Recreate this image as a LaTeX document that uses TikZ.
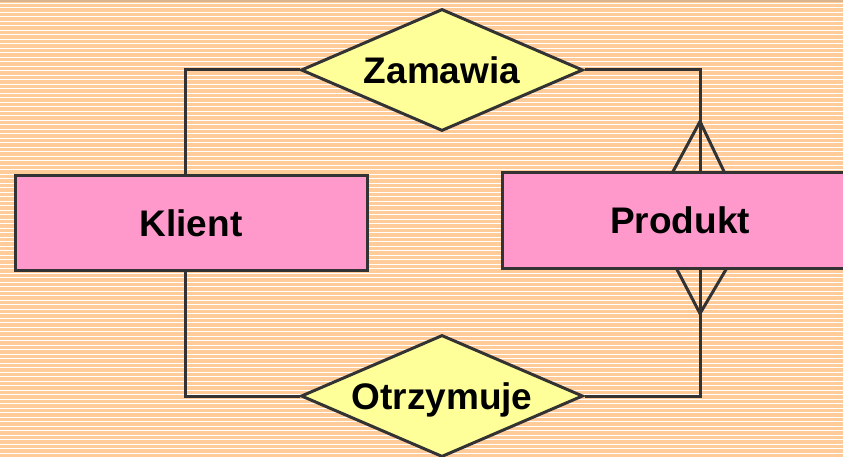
\documentclass[tikz,border=0pt]{standalone}
\usepackage{fontspec}
\setmainfont{Liberation Sans}
\usetikzlibrary{shapes.geometric}

\definecolor{tlo}{HTML}{FFCC99}
\definecolor{pasek}{HTML}{D9B48F}
\definecolor{encja}{HTML}{FF99CC}
\definecolor{relacja}{HTML}{FFFF99}
\definecolor{linia}{HTML}{333333}

\tikzset{
	encja/.style={draw=linia, line width=3pt, fill=encja, rectangle, inner sep=0pt,
		font=\fontsize{37}{40}\selectfont\bfseries, text depth=0pt},
	relacja/.style={draw=linia, line width=3pt, fill=relacja, diamond, aspect=2.3, inner sep=0pt,
		minimum width=282pt, minimum height=122pt,
		font=\fontsize{37}{40}\selectfont\bfseries, text depth=0pt},
	polaczenie/.style={draw=linia, line width=3pt, line join=miter}
}

\begin{document}
\begin{tikzpicture}[x=1pt, y=-1pt]
		\clip (0,0) rectangle (843,457);
		\fill[tlo] (0,0) rectangle (843,457);
		\foreach \y in {3.3,7.8,...,457} {
			\draw[white, line width=1pt] (0,\y) -- (843,\y);
		}
		\fill[pasek] (0,0) rectangle (843,2);
		
		\node[encja, minimum width=352pt, minimum height=94pt] (klient) at (191,223) {Klient};
		\node[encja, minimum width=356pt, minimum height=95pt] (produkt) at (680,220.5) {Produkt};
		
		\node[relacja] (zamawia) at (442,70) {Zamawia};
		\node[relacja] (otrzymuje) at (442,396) {Otrzymuje};
		
		\draw[polaczenie] ([xshift=-6pt]klient.north) |- (zamawia.west);
		\draw[polaczenie] (zamawia.east) -| ([xshift=20pt]produkt.north);
		\draw[polaczenie] ([xshift=-6pt]klient.south) |- (otrzymuje.west);
		\draw[polaczenie] (otrzymuje.east) -| ([xshift=20pt]produkt.south);
		
		\coordinate (gora) at ([xshift=20pt]produkt.north);
		\coordinate (dol) at ([xshift=20pt]produkt.south);
		\draw[polaczenie] ([xshift=-27pt]gora) -- ([yshift=50pt]gora) -- ([xshift=24pt]gora);
		\draw[polaczenie] ([xshift=-23pt]dol) -- ([yshift=-44pt]dol) -- ([xshift=26pt]dol);
	\end{tikzpicture}
\end{document}
